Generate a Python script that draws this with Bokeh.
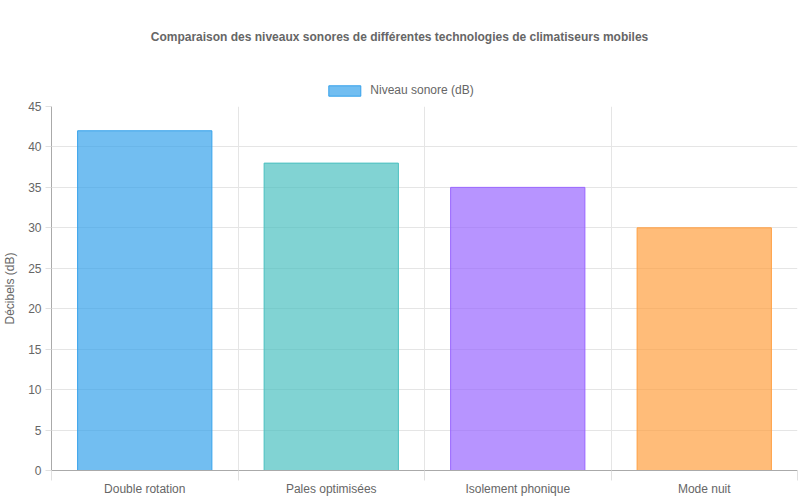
from bokeh.plotting import figure
from bokeh.layouts import column
from bokeh.models import ColumnDataSource, FixedTicker, Legend, LegendItem
from bokeh.embed import file_html
from bokeh.resources import INLINE

# data
categories = ["Double rotation", "Pales optimisées", "Isolement phonique", "Mode nuit"]
niveaux = [42, 38, 35, 30]
fill_colors = ["rgba(54,162,235,0.7)", "rgba(75,192,192,0.7)",
               "rgba(153,102,255,0.7)", "rgba(255,159,64,0.7)"]
line_colors = ["rgb(54,162,235)", "rgb(75,192,192)",
               "rgb(153,102,255)", "rgb(255,159,64)"]
titre = "Comparaison des niveaux sonores de différentes technologies de climatiseurs mobiles"
serie = "Niveau sonore (dB)"

FONT = "Liberation Sans"
GREY = "#666666"

src = ColumnDataSource(dict(
    x=[i + 0.5 for i in range(len(categories))],
    top=niveaux,
    fill=fill_colors,
    line=line_colors,
))

# header: title + legend (bars kept out of view, only the swatch is shown)
head = figure(width=798, height=98, x_range=(0, 1), y_range=(100, 101),
              output_backend="svg", toolbar_location=None, title=titre,
              min_border_left=0, min_border_right=0, min_border_top=46, min_border_bottom=0)
head.frame_align = False
head.axis.visible = False
head.grid.visible = False
head.outline_line_color = None
head.title.align = "center"
head.title.text_font = FONT
head.title.text_font_size = "12px"
head.title.text_font_style = "bold"
head.title.text_color = GREY
head.title.standoff = 6
hr = head.vbar(x="x", top="top", width=0.72, source=src,
               fill_color="fill", line_color="line", line_width=1)
legend = Legend(items=[LegendItem(label=serie, renderers=[hr], index=0)],
                orientation="horizontal", location="bottom_center",
                glyph_width=40, glyph_height=13, label_text_font=FONT,
                label_text_font_size="12px", label_text_color=GREY,
                border_line_color=None, background_fill_alpha=0,
                margin=1, padding=0, label_standoff=6, label_height=13)
head.add_layout(legend)

# main chart
p = figure(width=798, height=400, x_range=(0, len(categories)), y_range=(0, 45),
           output_backend="svg", toolbar_location=None,
           min_border_left=44, min_border_right=1, min_border_top=8, min_border_bottom=0)
p.frame_align = False
p.outline_line_color = None

p.vbar(x="x", top="top", width=0.72, source=src,
       fill_color="fill", line_color="line", line_width=1)

xa = p.xaxis[0]
xa.ticker = FixedTicker(ticks=[i + 0.5 for i in range(len(categories))],
                        minor_ticks=list(range(len(categories) + 1)))
xa.major_label_overrides = {i + 0.5: c for i, c in enumerate(categories)}
xa.major_tick_out = 0
xa.major_tick_in = 0
xa.minor_tick_out = 10
xa.minor_tick_in = 0
xa.minor_tick_line_color = "#e0e0e0"
xa.major_label_standoff = 1
xa.axis_line_color = "#aaaaaa"

ya = p.yaxis[0]
ya.ticker = FixedTicker(ticks=list(range(0, 46, 5)))
ya.minor_tick_line_color = None
ya.major_tick_out = 6
ya.major_tick_in = 0
ya.major_tick_line_color = "#e0e0e0"
ya.major_label_standoff = 4
ya.axis_line_color = "#aaaaaa"
ya.axis_label = "Décibels (dB)"
ya.axis_label_standoff = 8

for ax in (xa, ya):
    ax.major_label_text_font = FONT
    ax.major_label_text_font_size = "12px"
    ax.major_label_text_color = GREY
    ax.axis_label_text_font = FONT
    ax.axis_label_text_font_size = "12px"
    ax.axis_label_text_font_style = "normal"
    ax.axis_label_text_color = GREY

p.xgrid[0].ticker = FixedTicker(ticks=list(range(len(categories) + 1)))
p.xgrid[0].grid_line_color = "#e5e5e5"
p.ygrid[0].grid_line_color = "#e5e5e5"

open("out.html", "w").write(file_html(column(head, p, spacing=0), INLINE))
